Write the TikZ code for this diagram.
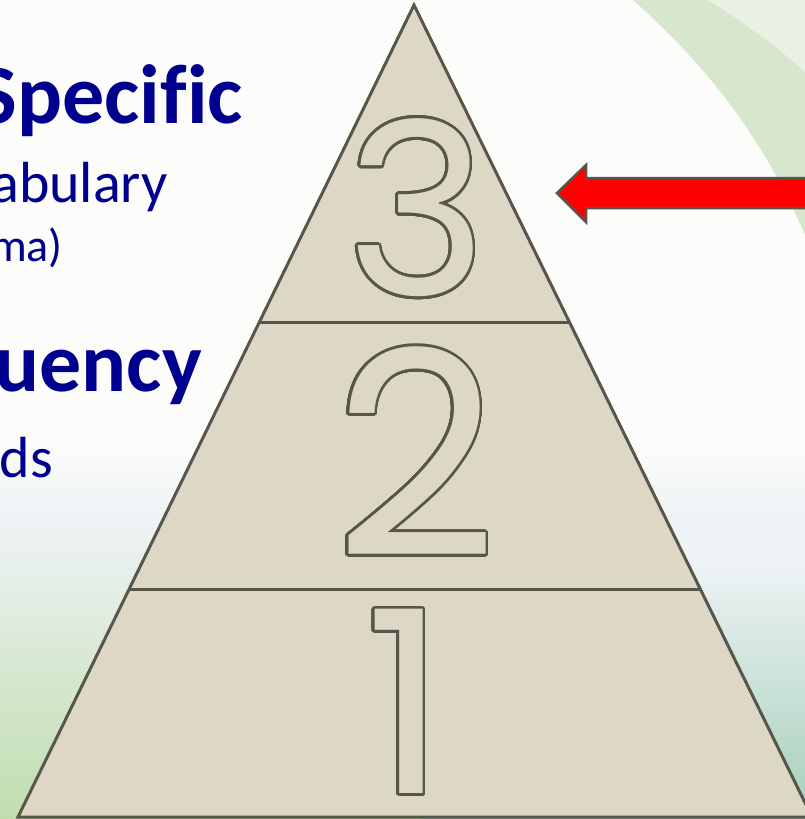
\documentclass[tikz,border=0pt]{standalone}
\usepackage{fontspec}
\usepackage[copies]{contour}
\usetikzlibrary{calc}
\setmainfont{Carlito}[Ligatures=CommonOff]
\newfontfamily\digitfont{Poppins}
\definecolor{stone}{HTML}{DDD8C6}
\definecolor{edge}{HTML}{58564A}
\definecolor{navy}{HTML}{00008E}
\definecolor{leaf}{HTML}{C0DDAE}
\definecolor{sea}{HTML}{A5CFBA}
\definecolor{mist}{HTML}{EEF3F5}
\definecolor{paper}{HTML}{FCFCFA}
\definecolor{sprout}{HTML}{D6E7CD}
\definecolor{glow}{HTML}{E8F1E3}
\contourlength{2.6pt}
\contournumber{40}

\begin{document}
\begin{tikzpicture}[x=1pt, y=-1pt,
    level/.style={draw=edge, line width=3pt},
    heading/.style={anchor=base east, inner sep=0pt, text=navy, font=\fontsize{84}{84}\selectfont\bfseries},
    subline/.style={anchor=base east, inner sep=0pt, text=navy},
    digit/.style={inner sep=0pt, text=stone}]

  % page, backdrop
  \useasboundingbox (0,0) rectangle (805,819);
  \clip (0,0) rectangle (805,819);
  \fill[paper] (0,0) rectangle (805,819);
  % swoosh, top right
  \fill[sprout] (633,0) .. controls (700,60) and (760,130) .. (805,235) -- (805,0) -- cycle;
  \fill[glow] (708,0) .. controls (740,20) and (775,45) .. (805,72) -- (805,0) -- cycle;
  % soft ground, left and right of the pyramid
  \shade[top color=paper, bottom color=mist] (0,440) rectangle (805,520);
  \shade[top color=mist, middle color=mist!60!leaf, bottom color=leaf] (0,520) rectangle (420,819);
  \shade[top color=mist, middle color=leaf!70!mist, bottom color=sea] (420,560) rectangle (805,819);
  \fill[mist] (420,520) rectangle (805,560);

  % headings on the left
  \node[heading] (specific) at (243,123) {Specific};
  \node[subline, font=\fontsize{58}{58}\selectfont] (vocab) at (168,202) {abulary};
  \node[subline, font=\fontsize{46}{46}\selectfont] (note) at (63,261) {ma)};
  \node[heading] (freq) at (202,391) {uency};
  \node[subline, font=\fontsize{58}{58}\selectfont] (words) at (53,477) {ds};

  % pyramid
  \coordinate (top) at (414,5);
  \coordinate (left) at (18,817);
  \coordinate (right) at (812,817);
  \filldraw[fill=stone, level] (top) -- (left) -- (right) -- cycle;
  \draw[level] ($(top)!0.3904!(left)$) -- ($(top)!0.3904!(right)$);
  \draw[level] ($(top)!0.7204!(left)$) -- ($(top)!0.7204!(right)$);

  \node[digit, font=\fontsize{240}{240}\selectfont] (three) at (417,209) {\contour{edge}{\digitfont 3}};
  \node[digit, font=\fontsize{285}{285}\selectfont] (two) at (416,453) {\contour{edge}{\digitfont 2}};
  \node[digit, font=\fontsize{255}{255}\selectfont] (one) at (406,703) {\contour{edge}{\digitfont 1}};

  % pointer
  \filldraw[fill=red, draw=edge, line width=2.5pt, line join=miter]
    (557,193) -- (586,165) -- (586,178) -- (815,178) -- (815,208) -- (586,208) -- (586,222) -- cycle;
\end{tikzpicture}
\end{document}
